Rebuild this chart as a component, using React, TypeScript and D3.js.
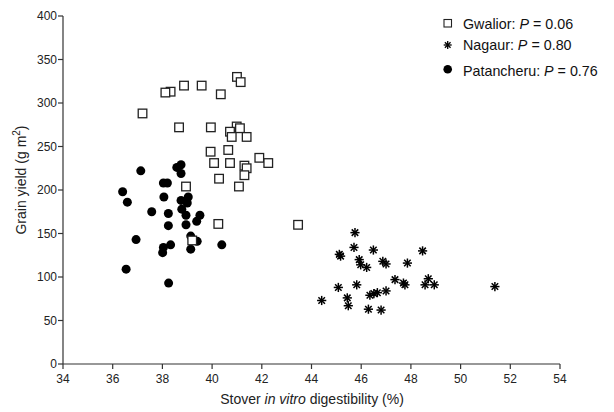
import React from "react";
import * as d3 from "d3";

// Stover in vitro digestibility (%) vs grain yield (g m-2) for three locations
const gwaliorX = [41.0, 41.15, 38.87, 39.58, 38.33, 38.12, 40.35, 37.2, 38.67, 39.95, 40.99, 41.12, 40.72, 40.79, 41.39, 39.94, 40.65, 40.08, 40.72, 41.3, 41.39, 41.3, 41.9, 42.26, 40.28, 41.08, 38.95, 40.25, 39.2, 43.46];
const gwaliorY = [330, 324, 320, 320, 313, 312, 310, 288, 272, 272, 273, 271, 267, 261, 261, 244, 246, 231, 231, 228, 225, 217, 237, 231, 213, 204, 204, 161, 142, 160];

const nagaurX = [45.75, 45.71, 46.49, 48.47, 45.12, 45.17, 45.92, 45.98, 46.22, 46.87, 47.0, 47.86, 47.36, 47.7, 47.76, 48.7, 48.57, 48.94, 51.38, 45.08, 45.82, 47.0, 46.35, 46.51, 46.65, 44.41, 45.44, 45.48, 46.29, 46.8];
const nagaurY = [151, 134, 131, 130, 126, 124, 120, 114, 111, 118, 115, 116, 97, 93, 91, 98, 91, 91, 89, 88, 91, 84, 79, 81, 82, 73, 76, 67, 63, 62];

const patancheruX = [37.13, 38.58, 38.75, 38.75, 38.04, 38.2, 36.4, 36.59, 38.06, 37.57, 38.24, 38.24, 38.75, 39.04, 39.0, 38.78, 38.95, 39.51, 39.38, 38.95, 39.14, 39.4, 36.94, 38.04, 38.33, 38.01, 39.14, 40.39, 36.54, 38.25];
const patancheruY = [222, 226, 229, 219, 208, 208, 198, 186, 192, 175, 173, 159, 188, 192, 185, 178, 171, 171, 164, 160, 147, 141, 143, 134, 137, 128, 132, 137, 109, 93];

const xTicks = [34, 36, 38, 40, 42, 44, 46, 48, 50, 52, 54];
const yTicks = [0, 50, 100, 150, 200, 250, 300, 350, 400];

const legendNames = ["Gwalior", "Nagaur", "Patancheru"];
const legendP = ["0.06", "0.80", "0.76"];

const W = 614;
const H = 412;
const FONT = "'Liberation Sans', Arial, sans-serif";
const AXIS = "#333";

const x = d3.scaleLinear().domain([34, 54]).range([63, 560]);
const y = d3.scaleLinear().domain([0, 400]).range([364, 16]);

const zip = (xs: number[], ys: number[]) => xs.map((v, i) => [v, ys[i]] as [number, number]);

function Star({ cx, cy, r = 4.6, w = 1.5 }: { cx: number; cy: number; r?: number; w?: number }) {
  const d = r * Math.SQRT1_2;
  return (
    <g stroke="#000" strokeWidth={w} strokeLinecap="butt">
      <line x1={cx - r} y1={cy} x2={cx + r} y2={cy} />
      <line x1={cx} y1={cy - r} x2={cx} y2={cy + r} />
      <line x1={cx - d} y1={cy - d} x2={cx + d} y2={cy + d} />
      <line x1={cx - d} y1={cy + d} x2={cx + d} y2={cy - d} />
    </g>
  );
}

export default function App() {
  const gw = zip(gwaliorX, gwaliorY);
  const ng = zip(nagaurX, nagaurY);
  const pt = zip(patancheruX, patancheruY);
  const sq = 8.6;

  return (
    <svg width={W} height={H} style={{ display: "block", position: "absolute", left: 0, top: 0, background: "#fff" }} fontFamily={FONT}>
      <rect width={W} height={H} fill="#fff" />

      {/* axes */}
      <line x1={x(34)} y1={y(0)} x2={x(34)} y2={y(400)} stroke={AXIS} strokeWidth={1.2} />
      <line x1={x(34)} y1={y(0)} x2={x(54)} y2={y(0)} stroke={AXIS} strokeWidth={1.2} />
      {yTicks.map((t) => (
        <g key={"y" + t}>
          <line x1={x(34) - 5} x2={x(34)} y1={y(t)} y2={y(t)} stroke={AXIS} strokeWidth={1.2} />
          <text x={x(34) - 6} y={y(t)} dy="0.35em" textAnchor="end" fontSize={12} fill="#222">
            {t}
          </text>
        </g>
      ))}
      {xTicks.map((t) => (
        <g key={"x" + t}>
          <line x1={x(t)} x2={x(t)} y1={y(0)} y2={y(0) + 5} stroke={AXIS} strokeWidth={1.2} />
          <text x={x(t)} y={383} textAnchor="middle" fontSize={12} fill="#222">
            {t}
          </text>
        </g>
      ))}

      {/* axis titles */}
      <text x={312} y={403.5} textAnchor="middle" fontSize={14} fill="#222">
        Stover <tspan fontStyle="italic">in vitro</tspan> digestibility (%)
      </text>
      <text transform="translate(26,180) rotate(-90)" textAnchor="middle" fontSize={14} fill="#222">
        Grain yield (g m<tspan dy={-6} fontSize={10}>2</tspan>
        <tspan dy={6}>)</tspan>
      </text>

      {/* Patancheru */}
      {pt.map(([a, b], i) => (
        <circle key={"p" + i} cx={x(a)} cy={y(b)} r={4.5} fill="#000" />
      ))}

      {/* Gwalior */}
      {gw.map(([a, b], i) => (
        <rect
          key={"g" + i}
          x={x(a) - sq / 2}
          y={y(b) - sq / 2}
          width={sq}
          height={sq}
          fill="#fff"
          stroke="#222"
          strokeWidth={1.3}
        />
      ))}

      {/* Nagaur */}
      {ng.map(([a, b], i) => (
        <Star key={"n" + i} cx={x(a)} cy={y(b)} />
      ))}

      {/* legend */}
      <rect x={444} y={19.5} width={7.5} height={7.5} fill="#fff" stroke="#222" strokeWidth={1.1} />
      <Star cx={447.7} cy={45} r={4} w={1.3} />
      <circle cx={447.7} cy={69.3} r={4.3} fill="#000" />
      {legendNames.map((n, i) => (
        <text key={n} x={463} y={[28.5, 49.5, 75.5][i]} fontSize={14.3} fill="#111">
          {n}: <tspan fontStyle="italic">P</tspan> = {legendP[i]}
        </text>
      ))}
    </svg>
  );
}
